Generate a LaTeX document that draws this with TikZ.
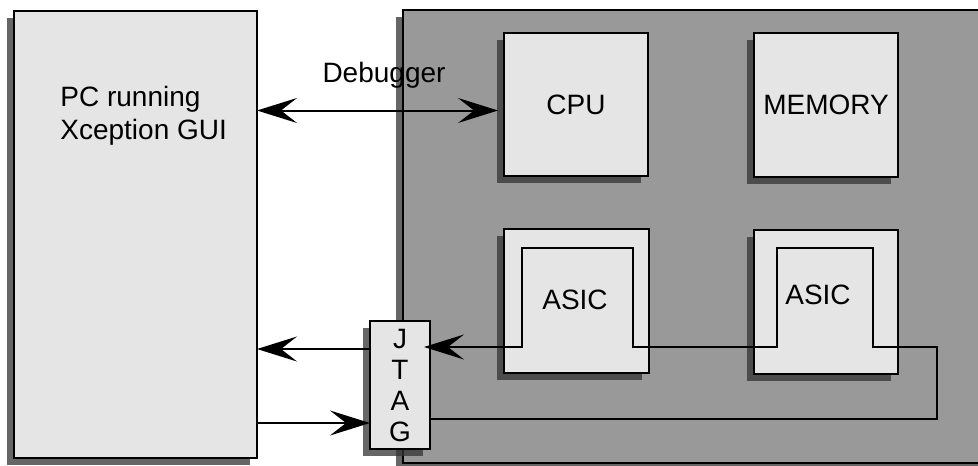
\documentclass[tikz,border=0pt]{standalone}
\usepackage{fontspec}
\setmainfont{Liberation Sans}
\usetikzlibrary{shadows,arrows.meta,calc,positioning}
\definecolor{chipfill}{gray}{0.9}
\definecolor{boardfill}{gray}{0.6}

\begin{document}
\begin{tikzpicture}[x=0.5pt, y=-0.5pt,
  box/.style={rectangle, draw, line width=1pt, fill=chipfill, inner sep=0pt, outer sep=0pt,
    drop shadow={shadow xshift=-3.5pt, shadow yshift=-3.5pt, opacity=0.75, fill=black!80}},
  txt/.style={font=\fontsize{14}{16.5}\selectfont, inner sep=0pt},
  sig/.style={line width=1pt},
  >={Stealth[length=20pt, width=12.5pt, inset=8pt]}]
\useasboundingbox (0,0) rectangle (978,465);
% host and target board
\node[box, minimum width=121.5pt, minimum height=223.5pt] (pc) at (135.5,234.5) {};
\node[box, fill=boardfill, minimum width=291pt, minimum height=226.5pt] (brd) at (694,236.5) {};
\node[txt, align=left, anchor=north west] (pctxt) at (60,86) {PC running\\Xception GUI};
% parts on the board
\node[box, minimum width=72pt, minimum height=71.5pt, txt] (cpu) at (576,104.5) {CPU};
\node[box, minimum width=72pt, minimum height=72pt, txt] (mem) at (826,105) {MEMORY};
\node[box, minimum width=72.5pt, minimum height=72pt] (asic1) at (576.5,301) {};
\node[box, minimum width=72pt, minimum height=72pt] (asic2) at (826,302) {};
\node[txt] (a1txt) at (575,300) {ASIC};
\node[txt] (a2txt) at (818,295) {ASIC};
\node[box, minimum width=30pt, minimum height=64pt, txt, font=\fontsize{14}{15.5}\selectfont, align=center] (jtag) at (400,385) {J\\T\\A\\G};
% scan chain through the asics
\coordinate (lo) at (937,419);
\draw[sig,->] (jtag.east |- lo) -- (lo) -- (937,347) -- (873,347) |- (777,248) -- (777,347)
  -- (633,347) |- (522,248) -- (522,347) coordinate (a1l) -- ([xshift=-3pt]jtag.east |- a1l);
% links to the pc
\coordinate (c1) at ($(cpu.west)+(0,6)$);
\draw[sig,<->] (pc.east |- c1) -- ([xshift=-3pt]c1);
\node[txt] (dbg) at (384,75) {Debugger};
\draw[sig,->] ($(jtag.west)+(0,-36)$) coordinate (j1) -- (pc.east |- j1);
\draw[sig,->] (pc.east |- 0,423) coordinate (j2) -- (jtag.west |- j2);
\end{tikzpicture}
\end{document}
